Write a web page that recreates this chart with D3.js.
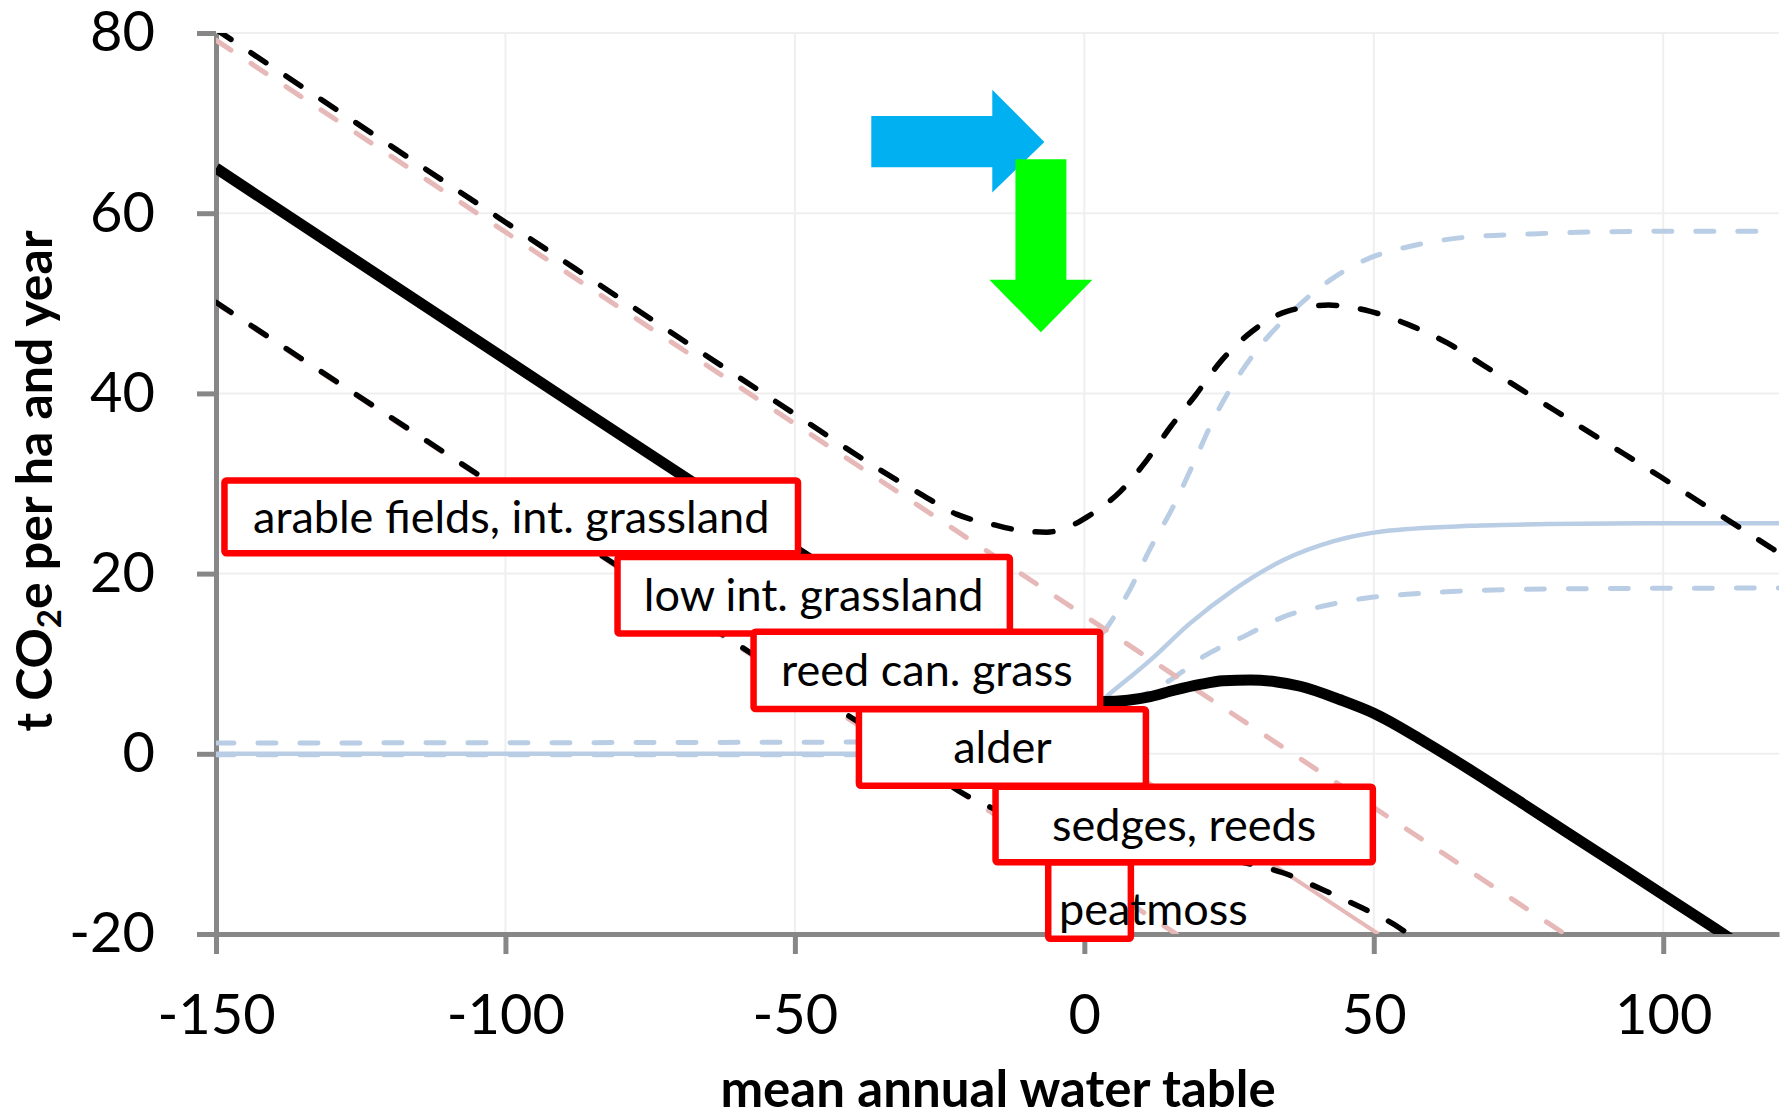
<!DOCTYPE html>
<html>
<head>
<meta charset="utf-8">
<script src="https://cdn.jsdelivr.net/npm/d3@7"></script>
<style>
  body { margin: 0; background: #fff; }
  svg text { font-family: Lato, "Open Sans", sans-serif; fill: #000; }
</style>
</head>
<body>
<svg id="chart" width="1787" height="1118"></svg>
<script>
"use strict"

// Axis ticks (mean annual water table / t CO2e per ha and year)
const xTicks = [-150, -100, -50, 0, 50, 100]
const yTicks = [-20, 0, 20, 40, 60, 80]

// CO2 part (pink): upper, central, lower estimate, [water table, emission]
const co2Upper = [[-150, 79.2], [83, -20]]
const co2Mid = [[-150, 65], [50.8, -20]]
const co2Lower = [[-150, 50], [15.9, -20]]

// CH4 part (light blue)
const ch4Upper = [[-150, 1.2], [-40, 1.3], [-30, 1.6], [-22, 2.0], [-15.5, 3.6], [-6.5, 6.7], [0.5, 11.4],
    [4.2, 14.3], [7.6, 17.9], [11.4, 22.8], [15.4, 27.5], [18.9, 32.3], [22.3, 37.1], [25.8, 41.1],
    [29.8, 44.8], [35, 48.5], [42.5, 52.6], [50, 55.2], [54.8, 56.1], [65.4, 57.3], [77.3, 57.7],
    [100, 58], [120, 58]]
const ch4Mid = [[-150, 0], [-40, 0], [-25, 0.3], [-15, 1.0], [-5, 2.6], [0, 4.3], [3.9, 6.4], [11.4, 10.4],
    [18.3, 14.5], [25.8, 18.2], [34.4, 21.5], [43.1, 23.6], [51.7, 24.7], [66.7, 25.3], [80, 25.5],
    [97, 25.6], [120, 25.6]]
const ch4Lower = [[-150, -0.1], [-40, -0.1], [-20, 0.6], [-10, 1.6], [0, 3.0], [10.2, 6.5], [14.9, 8.2],
    [20.6, 10.8], [28.1, 13.2], [34.4, 15.2], [41.3, 16.4], [48.8, 17.3], [55.7, 17.7], [63.2, 18.0],
    [80, 18.3], [120, 18.4]]

// total GHG (black): upper, central, lower
const ghgUpper = [[-150, 80.4], [-100, 59.0], [-50, 37.7], [-35, 31.4], [-28.7, 29.0], [-22.1, 26.6],
    [-15.5, 25.4], [-10, 24.7], [-6.5, 24.6], [-3, 25.1], [0.5, 26.3], [3.5, 27.6], [6.2, 29.1],
    [10.8, 32.6], [14.9, 36.3], [19.2, 39.8], [23.5, 43.5], [29, 46.9], [35, 49.1], [42.2, 49.8],
    [49.4, 49.1], [56.1, 47.6], [62.7, 45.6], [69, 43.1], [75.3, 40.5], [81.3, 38.1], [87.2, 35.7],
    [93.2, 33.3], [99.4, 30.8], [105.7, 28.2], [112, 25.6], [118.3, 23.0], [120, 22.3]]
const ghgMid = [[-150, 65], [-100, 43.8], [-50, 22.7], [-25, 12.4], [-15, 8.6], [-8, 6.9], [-3, 6.1],
    [0, 5.85], [3.6, 5.8], [7.5, 5.95], [11.4, 6.35], [15.5, 7.05], [20, 7.7], [24, 8.1], [28.7, 8.2],
    [33, 8.0], [37.3, 7.5], [44.2, 6.0], [50, 4.5], [58.6, 1.4], [67.2, -2.0], [75.9, -5.6], [84.5, -9.2],
    [93.2, -12.8], [101.8, -16.4], [110.4, -20.0], [112, -20.7]]
const ghgLower = [[-150, 50.1], [-100, 29.0], [-50, 8.0], [-30, -0.3], [-21.5, -4.2], [-10, -7.6],
    [0, -10.3], [10, -11.2], [20, -11.3], [27.7, -12.1], [34.3, -13.2], [40.9, -15.0], [47.3, -16.9],
    [54.4, -19.3], [57, -20.5]]

// vegetation labels and their boxes in axis units [left, right, top, bottom]
const labelNames = ["arable fields, int. grassland", "low int. grassland", "reed can. grass",
    "alder", "sedges, reeds", "peatmoss"]
const labelBoxes = [[-149.1, -48.9, 30.7, 21.9], [-81.2, -12.3, 22.2, 13.0], [-57.7, 3.3, 13.9, 4.6],
    [-39.5, 11.2, 5.3, -3.9], [-15.9, 50.4, -3.3, -12.4], [-6.8, 8.6, -11.7, -20.9]]

// arrows, in axis units
const blueArrow = [[-36.8, 70.8], [-15.9, 70.8], [-15.9, 73.7], [-6.9, 67.9], [-15.9, 62.3], [-15.9, 65.1], [-36.8, 65.1]]
const greenArrow = [[-11.9, 66.0], [-3.1, 66.0], [-3.1, 52.6], [1.4, 52.6], [-7.5, 46.8], [-16.4, 52.6], [-11.9, 52.6]]

function render(){
    const svg = d3.select("#chart")
    const plot = {left: 216, right: 1779, top: 33, bottom: 934}

    const x = d3.scaleLinear().domain([-150, 120]).range([plot.left, plot.right])
    const y = d3.scaleLinear().domain([-20, 80]).range([plot.bottom, plot.top])

    svg.append("rect").attr("width", 1787).attr("height", 1118).attr("fill", "#fff")

    // gridlines
    const grid = svg.append("g").attr("stroke", "#efefef").attr("stroke-width", 2)
    grid.selectAll(".gx").data(xTicks.slice(1)).join("line")
        .attr("x1", d => x(d)).attr("x2", d => x(d))
        .attr("y1", plot.top).attr("y2", plot.bottom)
    grid.selectAll(".gy").data(yTicks.slice(1)).join("line")
        .attr("x1", plot.left).attr("x2", plot.right)
        .attr("y1", d => y(d)).attr("y2", d => y(d))

    // axes, plain hyphen for negative numbers as in the original
    const fmt = d => String(d)
    const yAxis = d3.axisLeft(y).tickValues(yTicks).tickFormat(fmt).tickSize(19).tickSizeOuter(0).tickPadding(42)
    const xAxis = d3.axisBottom(x).tickValues(xTicks).tickFormat(fmt).tickSize(20).tickSizeOuter(0).tickPadding(40)

    const gy = svg.append("g").attr("transform", `translate(${plot.left},0)`).call(yAxis)
    const gx = svg.append("g").attr("transform", `translate(0,${plot.bottom})`).call(xAxis)
    for(const g of [gx, gy]){
        g.select(".domain").attr("stroke", "#878787").attr("stroke-width", 5)
        g.selectAll(".tick line").attr("stroke", "#878787").attr("stroke-width", 5)
        g.selectAll(".tick text").attr("font-size", 56).attr("font-family", "Lato, sans-serif").attr("fill", "#000")
    }

    // series
    svg.append("clipPath").attr("id", "plotclip")
        .append("rect")
        .attr("x", plot.left).attr("y", plot.top)
        .attr("width", plot.right - plot.left).attr("height", plot.bottom - plot.top)

    const line = d3.line().x(d => x(d[0])).y(d => y(d[1])).curve(d3.curveMonotoneX)
    const lines = svg.append("g").attr("clip-path", "url(#plotclip)").attr("fill", "none")

    const pink = "#e6b9b8"
    const blue = "#b9cde5"
    const dash = "18 24"
    const series = [
        {data: ch4Lower, color: blue, width: 5, dash: dash},
        {data: ch4Upper, color: blue, width: 5, dash: dash},
        {data: ch4Mid, color: blue, width: 4.5, dash: null},
        {data: co2Upper, color: pink, width: 5, dash: dash},
        {data: co2Lower, color: pink, width: 5, dash: dash},
        {data: co2Mid, color: pink, width: 4, dash: null},
        {data: ghgUpper, color: "#000", width: 5.5, dash: dash},
        {data: ghgLower, color: "#000", width: 5.5, dash: dash},
        {data: ghgMid, color: "#000", width: 11, dash: null}
    ]
    lines.selectAll("path").data(series).join("path")
        .attr("d", d => line(d.data))
        .attr("stroke", d => d.color)
        .attr("stroke-width", d => d.width)
        .attr("stroke-dasharray", d => d.dash)
        .attr("stroke-linecap", d => d.dash ? "round" : "butt")
        .attr("stroke-linejoin", "round")

    // label boxes
    const sw = 6.5
    const boxes = svg.append("g")
    labelNames.forEach((name, i) => {
        const [l, r, t, b] = labelBoxes[i]
        const x0 = x(l), x1 = x(r), y0 = y(t), y1 = y(b)
        boxes.append("rect")
            .attr("x", x0 + sw / 2).attr("y", y0 + sw / 2)
            .attr("width", x1 - x0 - sw).attr("height", y1 - y0 - sw)
            .attr("rx", 2)
            .attr("fill", "#fff").attr("stroke", "#ff0000").attr("stroke-width", sw)
        const last = i === labelNames.length - 1
        boxes.append("text")
            .attr("x", last ? x0 + 14 : (x0 + x1) / 2)
            .attr("y", (y0 + y1) / 2 + (last ? 24 : 16))
            .attr("text-anchor", last ? "start" : "middle")
            .attr("font-size", 45)
            .text(name)
    })

    // arrows
    const poly = pts => pts.map(p => [x(p[0]), y(p[1])].join(",")).join(" ")
    svg.append("polygon").attr("points", poly(blueArrow)).attr("fill", "#00b0f0")
    svg.append("polygon").attr("points", poly(greenArrow)).attr("fill", "#00ff00")

    // axis titles
    svg.append("text")
        .attr("x", 998).attr("y", 1107)
        .attr("text-anchor", "middle")
        .attr("font-size", 51).attr("font-weight", "bold")
        .text("mean annual water table")

    const yt = svg.append("text")
        .attr("transform", "translate(52,481) rotate(-90)")
        .attr("text-anchor", "middle")
        .attr("font-size", 50).attr("font-weight", "bold")
    yt.append("tspan").text("t CO")
    yt.append("tspan").attr("font-size", 33).attr("dy", 9).text("2")
    yt.append("tspan").attr("dy", -9).text("e per ha and year")
}

render()
</script>
</body>
</html>
